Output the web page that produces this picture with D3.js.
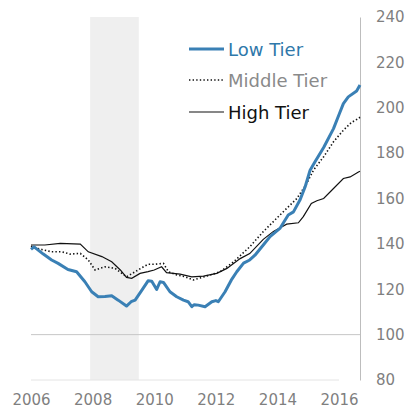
<!DOCTYPE html>
<html>
<head>
<meta charset="utf-8">
<script src="https://cdn.jsdelivr.net/npm/d3@7"></script>
<style>
  body { margin: 0; background: #fff; }
  svg text { font-family: "DejaVu Sans", sans-serif; }
</style>
</head>
<body>
<div id="chart"></div>
<script>
// Data (decimal years, index values)
var lowDates = [2006.0, 2006.1, 2006.4, 2006.67, 2006.88, 2007.2, 2007.48, 2007.75, 2007.97, 2008.18,
  2008.4, 2008.62, 2008.83, 2009.1, 2009.25, 2009.38, 2009.6, 2009.8, 2009.92, 2010.08,
  2010.19, 2010.3, 2010.51, 2010.73, 2010.95, 2011.1, 2011.22, 2011.3, 2011.43, 2011.65,
  2011.87, 2012.0, 2012.08, 2012.3, 2012.5, 2012.68, 2012.9, 2013.1, 2013.27, 2013.54,
  2013.76, 2014.08, 2014.35, 2014.52, 2014.73, 2014.9, 2015.06, 2015.22, 2015.5, 2015.82,
  2016.0, 2016.14, 2016.3, 2016.57, 2016.68];
var lowValues = [137.6, 138.7, 135.5, 132.9, 131.4, 128.7, 127.7, 123.3, 118.9, 116.7,
  116.8, 117.1, 115.2, 112.6, 114.5, 115.2, 119.6, 123.7, 123.5, 119.9,
  123.3, 123.0, 118.9, 116.7, 115.2, 114.5, 112.3, 113.2, 113.0, 112.3,
  114.5, 115.0, 114.5, 118.9, 124.0, 127.7, 131.5, 132.9, 135.0, 139.5,
  143.2, 146.8, 152.7, 154.1, 159.3, 165.2, 172.5, 176.2, 182.5, 190.8,
  197.0, 201.8, 204.8, 207.4, 210.0];

var midDates = [2006.0, 2006.2, 2006.67, 2007.0, 2007.27, 2007.6, 2007.86, 2008.08, 2008.4, 2008.73,
  2008.95, 2009.1, 2009.38, 2009.6, 2009.8, 2010.0, 2010.3, 2010.46, 2010.73, 2011.0,
  2011.27, 2011.7, 2012.14, 2012.57, 2013.1, 2013.54, 2014.08, 2014.63, 2014.95, 2015.17,
  2015.5, 2015.82, 2016.14, 2016.4, 2016.57, 2016.68];
var midValues = [139.0, 138.0, 136.5, 136.5, 135.5, 135.8, 132.9, 128.5, 129.9, 129.2,
  127.0, 125.5, 127.7, 129.5, 131.0, 131.0, 131.4, 127.7, 126.3, 125.5,
  124.1, 125.8, 127.7, 132.0, 138.7, 145.4, 152.7, 160.0, 166.6, 172.5,
  178.4, 185.0, 190.1, 193.5, 194.8, 195.8];

var highDates = [2006.0, 2006.45, 2006.95, 2007.6, 2007.86, 2008.3, 2008.62, 2008.9, 2009.1, 2009.27,
  2009.54, 2009.8, 2010.0, 2010.24, 2010.4, 2010.84, 2011.22, 2011.6, 2012.03, 2012.36,
  2012.79, 2013.1, 2013.54, 2013.87, 2014.3, 2014.68, 2014.84, 2015.1, 2015.28, 2015.5,
  2015.82, 2016.14, 2016.36, 2016.63, 2016.68];
var highValues = [139.5, 139.5, 140.2, 139.9, 136.5, 134.4, 132.1, 128.5, 125.2, 124.8,
  127.0, 127.8, 128.5, 129.9, 127.3, 126.7, 125.5, 125.8, 127.0, 129.2,
  133.5, 135.7, 142.0, 145.5, 148.7, 149.3, 152.0, 157.8, 159.0, 160.0,
  164.4, 168.8, 169.5, 171.7, 172.0];

var yearTicks = [2006, 2008, 2010, 2012, 2014, 2016];
var valueTicks = [80, 100, 120, 140, 160, 180, 200, 220, 240];
var recession = [2007.92, 2009.5];
var seriesNames = ["Low Tier", "Middle Tier", "High Tier"];

function drawChart() {

  // Settings
  var width = 411;
  var height = 411;
  var blue = "#3a80b5";

  var svg = d3.select('#chart')
    .append('svg')
    .attr('width', width)
    .attr('height', height);

  var x = d3.scaleLinear().domain([2006, 2016.68]).range([31, 360]);
  var y = d3.scaleLinear().domain([80, 240]).range([380, 17]);

  // Recession band
  svg.append('rect')
    .attr('x', x(recession[0]))
    .attr('y', y(240))
    .attr('width', x(recession[1]) - x(recession[0]))
    .attr('height', y(80) - y(240))
    .attr('fill', '#efefef');

  // Baseline + 100 line
  svg.append('line')
    .attr('x1', x(2006)).attr('x2', x(2016))
    .attr('y1', y(80)).attr('y2', y(80))
    .attr('stroke', '#e4e4e4').attr('stroke-width', 1);

  svg.append('line')
    .attr('x1', x(2006)).attr('x2', x(2016.68))
    .attr('y1', y(100)).attr('y2', y(100))
    .attr('stroke', '#c6c6c6').attr('stroke-width', 1);

  // Right axis
  var yAxis = d3.axisRight(y).tickValues(valueTicks).tickSize(0).tickPadding(16);
  var gy = svg.append('g')
    .attr('transform', 'translate(' + x(2016.68) + ',0)')
    .call(yAxis);
  gy.select('.domain').attr('stroke', '#bdbdbd');
  gy.selectAll('text')
    .attr('fill', '#7f7f7f')
    .style('font-size', '15px')
    .style('font-family', '"DejaVu Sans", sans-serif');

  // Bottom axis (labels only)
  var xAxis = d3.axisBottom(x).tickValues(yearTicks).tickSize(0).tickPadding(14).tickFormat(d3.format('d'));
  var gx = svg.append('g')
    .attr('transform', 'translate(0,' + y(80) + ')')
    .call(xAxis);
  gx.select('.domain').remove();
  gx.selectAll('text')
    .attr('fill', '#7f7f7f')
    .style('font-size', '15px')
    .style('font-family', '"DejaVu Sans", sans-serif');

  // Lines
  function pairs(dates, values) {
    return dates.map(function(d, i) { return [d, values[i]]; });
  }
  var line = d3.line()
    .x(function(d) { return x(d[0]); })
    .y(function(d) { return y(d[1]); });

  svg.append('path')
    .datum(pairs(highDates, highValues))
    .attr('d', line)
    .attr('fill', 'none')
    .attr('stroke', '#111')
    .attr('stroke-width', 1.2);

  svg.append('path')
    .datum(pairs(midDates, midValues))
    .attr('d', line)
    .attr('fill', 'none')
    .attr('stroke', '#111')
    .attr('stroke-width', 1.6)
    .attr('stroke-dasharray', '1.4,2.2');

  svg.append('path')
    .datum(pairs(lowDates, lowValues))
    .attr('d', line)
    .attr('fill', 'none')
    .attr('stroke', blue)
    .attr('stroke-width', 3)
    .attr('stroke-linejoin', 'round');

  // Legend
  var legendStyles = [
    { stroke: blue, width: 3, dash: null, text: '#2f78aa', ly: 49, ty: 56 },
    { stroke: '#111', width: 1.6, dash: '1.4,2.2', text: '#8a8a8a', ly: 80, ty: 87 },
    { stroke: '#111', width: 1.2, dash: null, text: '#111', ly: 112, ty: 119 }
  ];

  var legend = svg.selectAll('.leg')
    .data(seriesNames)
    .enter()
    .append('g')
    .attr('class', 'leg');

  legend.append('line')
    .attr('x1', 189).attr('x2', 224)
    .attr('y1', function(d, i) { return legendStyles[i].ly; })
    .attr('y2', function(d, i) { return legendStyles[i].ly; })
    .attr('stroke', function(d, i) { return legendStyles[i].stroke; })
    .attr('stroke-width', function(d, i) { return legendStyles[i].width; })
    .attr('stroke-dasharray', function(d, i) { return legendStyles[i].dash; });

  legend.append('text')
    .attr('x', 228)
    .attr('y', function(d, i) { return legendStyles[i].ty; })
    .attr('fill', function(d, i) { return legendStyles[i].text; })
    .style('font-size', '18px')
    .text(function(d) { return d; });
}

drawChart();
</script>
</body>
</html>
